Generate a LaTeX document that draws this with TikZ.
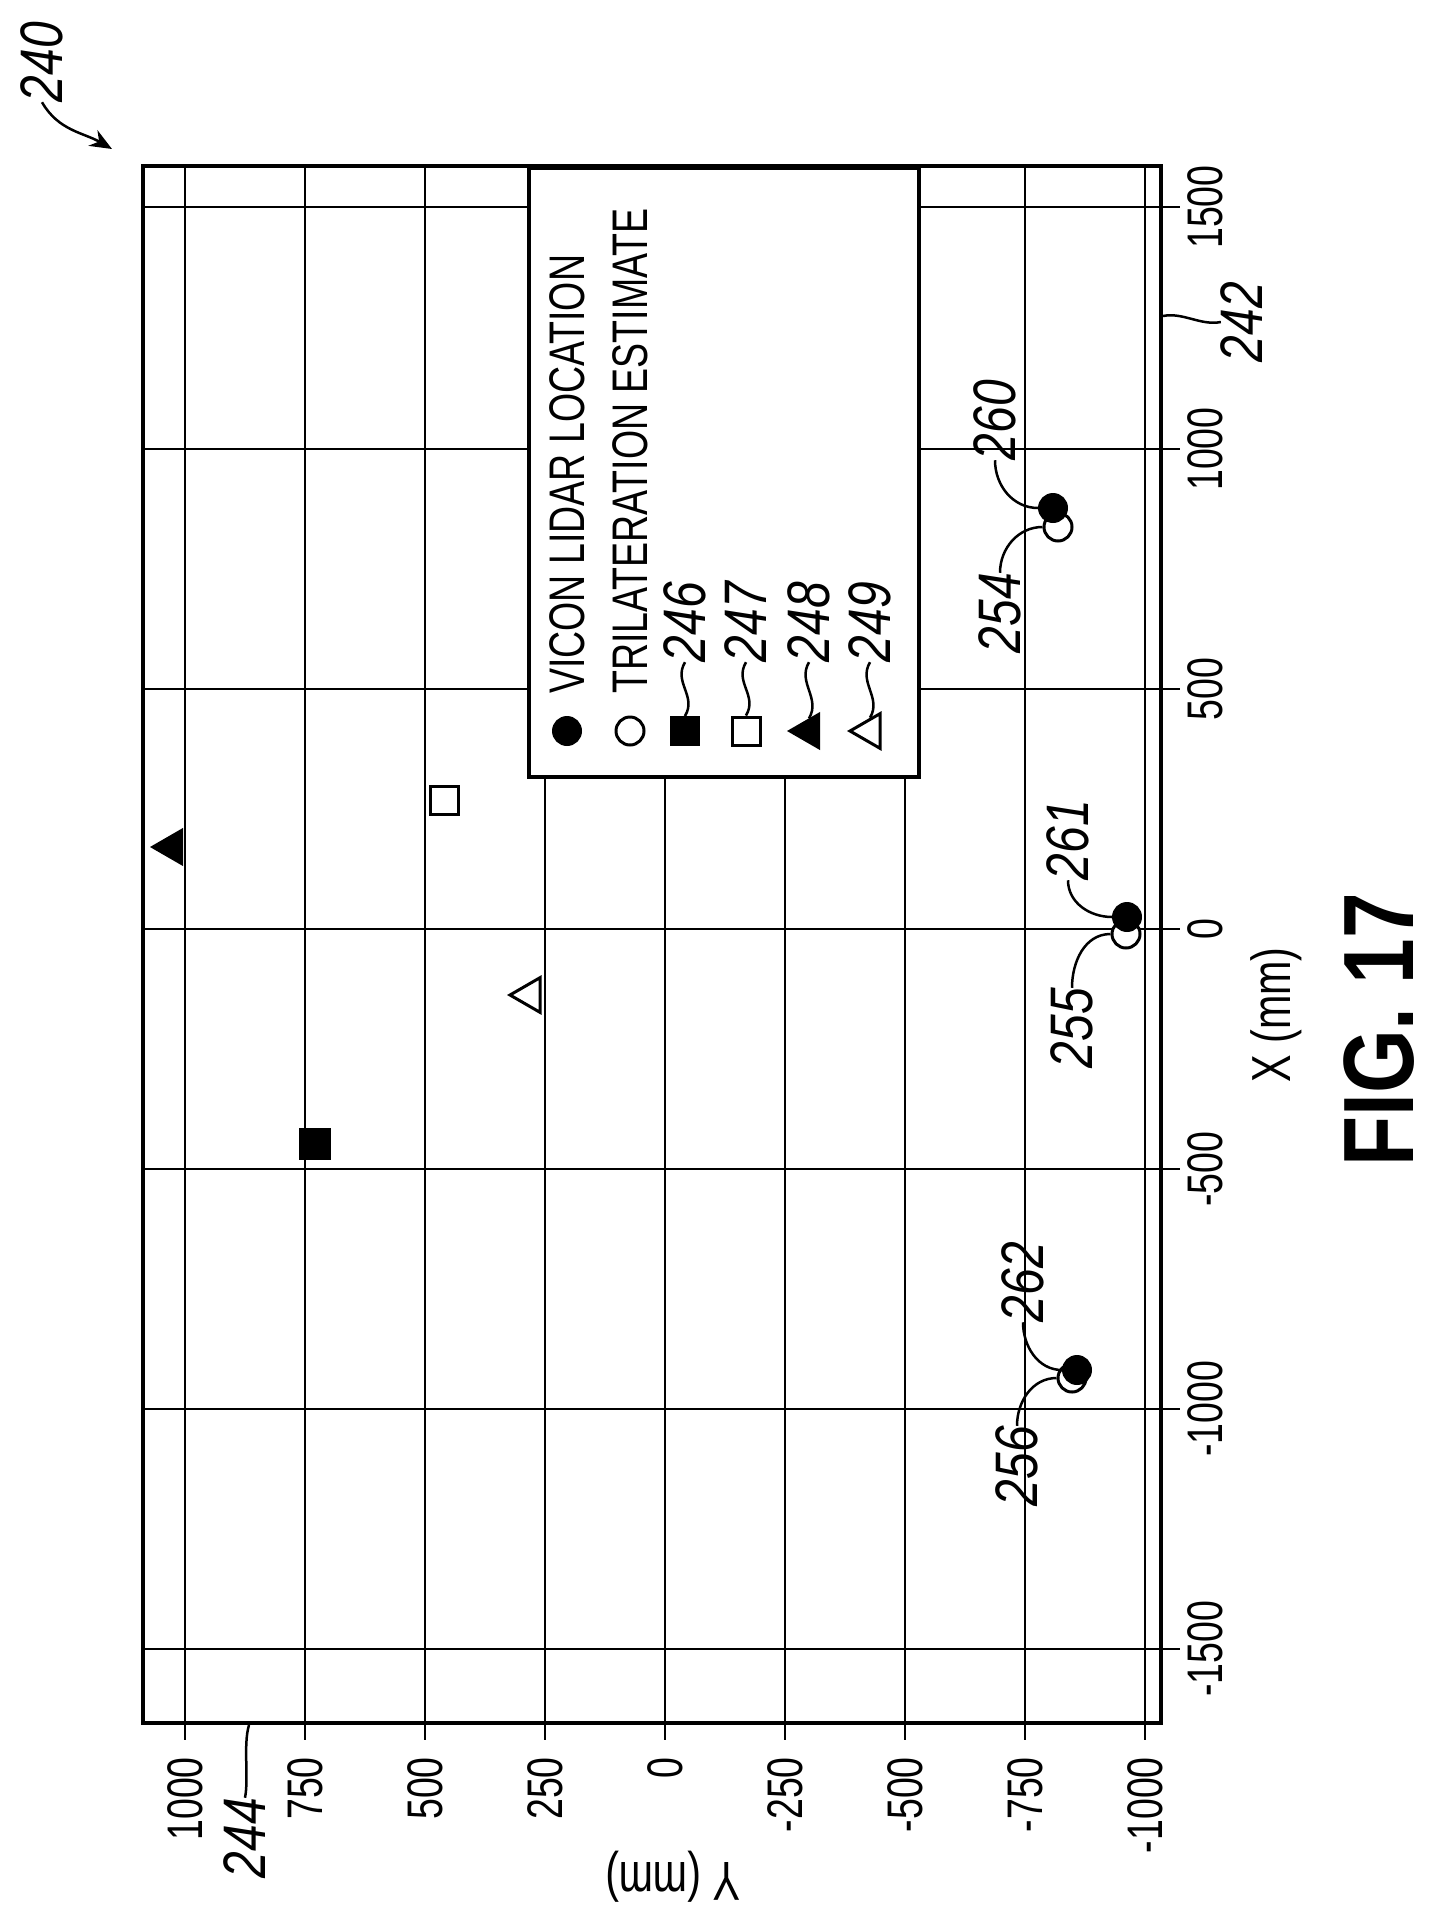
\documentclass[tikz,border=0pt]{standalone}
\usepackage{fontspec}
\setmainfont{Liberation Sans}
\newfontfamily\condf[FakeStretch=0.75]{Liberation Sans}
\newfontfamily\figf[FakeStretch=0.82]{Liberation Sans Bold}
\newfontfamily\handf[FakeStretch=0.8]{Liberation Sans Italic}
\usetikzlibrary{shapes.geometric,arrows.meta}
\begin{document}
\begin{tikzpicture}[x=1pt,y=-1pt,
  grid/.style={line width=2pt},
  frame/.style={line width=4.5pt},
  tick/.style={font=\condf\fontsize{50}{50}\selectfont, rotate=90, inner sep=0pt},
  hand/.style={font=\handf\fontsize{60}{60}\selectfont, rotate=90, inner sep=0pt},
  lead/.style={line width=2.5pt},
  fc/.style={circle, fill=black, draw=black, line width=2pt, minimum size=28pt, inner sep=0pt},
  oc/.style={circle, fill=white, draw=black, line width=3pt, minimum size=28pt, inner sep=0pt},
  fsq/.style={rectangle, fill=black, draw=black, line width=2pt, minimum size=28pt, inner sep=0pt},
  osq/.style={rectangle, fill=white, draw=black, line width=3pt, minimum size=28pt, inner sep=0pt},
  ftri/.style={regular polygon, regular polygon sides=3, shape border rotate=90, fill=black, draw=black, line width=2pt, minimum size=40pt, inner sep=0pt},
  otri/.style={regular polygon, regular polygon sides=3, shape border rotate=90, fill=white, draw=black, line width=3pt, minimum size=40pt, inner sep=0pt},
  leg/.style={font=\condf\fontsize{50}{50}\selectfont, rotate=90, anchor=west, inner sep=0pt}
]
\useasboundingbox (0,0) rectangle (1436,1927);
% grid lines: X values (horizontal lines)
\foreach \X/\yy in {1500/207,1000/449,500/689,0/929,-500/1169,-1000/1409,-1500/1649}{
  \draw[grid] (143,\yy) -- (1180,\yy);
  \node[tick] at (1205,\yy) {\X};
}
% Y values (vertical lines)
\foreach \Y/\xx in {1000/185,750/305,500/425,250/545,0/665,-250/785,-500/905,-750/1025,-1000/1145}{
  \draw[grid] (\xx,166) -- (\xx,1740);
  \node[tick, anchor=east] at (\xx,1757) {\Y};
}
% frame
\draw[frame] (143,166) rectangle (1161,1723);
% legend
\node[draw=black, line width=3.5pt, fill=white, minimum width=390pt, minimum height=609pt, inner sep=0pt, anchor=north west] (legbox) at (527,166) {};
\node[fc] (lm1) at (567,731) {};
\node[oc] (lm2) at (630,731) {};
\node[fsq] (lm3) at (685,731) {};
\node[osq] (lm4) at (746,731) {};
\node[ftri] (lm5) at (809,731) {};
\node[otri] (lm6) at (870,731) {};
\node[leg] (lt1) at (567,694) {VICON LIDAR LOCATION};
\node[leg] (lt2) at (630,694) {TRILATERATION ESTIMATE};
\foreach \i/\xx/\t in {3/685/246,4/746/247,5/809/248,6/870/249}{
  \node[hand] (ll\i) at (\xx,622) {\t};
  \draw[lead] (lm\i.north) .. controls +(12,-20) and +(-12,20) .. (ll\i.west);
}
% data points
\node[fsq, minimum size=30pt] (p246) at (315,1144) {};
\node[osq] (p247) at (444,800) {};
\node[ftri] (p248) at (172,847) {};
\node[otri] (p249) at (530,995) {};
\node[oc] (p254) at (1058,527) {};
\node[fc] (p260) at (1053,508) {};
\node[oc] (p255) at (1126,934) {};
\node[fc] (p261) at (1127,917) {};
\node[oc] (p256) at (1072,1378) {};
\node[fc] (p262) at (1077,1370) {};
% point labels
\node[hand] (t260) at (995,420) {260};
\node[hand] (t254) at (1000,613) {254};
\node[hand] (t261) at (1068,840) {261};
\node[hand] (t255) at (1072,1028) {255};
\node[hand] (t262) at (1023,1282) {262};
\node[hand] (t256) at (1017,1466) {256};
\draw[lead] (t260.west) to[out=-90,in=180] (p260.west);
\draw[lead] (t254.east) to[out=90,in=180] (p254.west);
\draw[lead] (t261.west) to[out=-90,in=180] (p261.west);
\draw[lead] (t255.east) to[out=90,in=180] (p255.west);
\draw[lead] (t262.west) to[out=-90,in=180] (p262.west);
\draw[lead] (t256.east) to[out=90,in=180] (p256.west);
% axis titles
\node[font=\condf\fontsize{55}{55}\selectfont, rotate=90] (xt) at (1276,1015) {X (mm)};
\node[font=\condf\fontsize{55}{55}\selectfont, rotate=180] (yt) at (673,1877) {Y (mm)};
\node[font=\figf\fontsize{100}{100}\selectfont, rotate=90] (fig) at (1379,1030) {FIG. 17};
% reference labels
\node[hand] (r240) at (42,62) {240};
\draw[lead, -{Stealth[length=22pt,width=18pt]}] (r240.west) to[out=-60,in=150] (112,149);
\node[hand] (r244) at (245,1838) {244};
\coordinate (c244) at (249,1725);
\draw[lead] (r244.east) .. controls +(4,-20) and +(-6,20) .. (c244);
\node[hand] (r242) at (1242,322) {242};
\coordinate (c242) at (1163,316);
\draw[lead] (c242) .. controls +(20,-4) and +(-20,4) .. (r242.north);
\end{tikzpicture}
\end{document}
